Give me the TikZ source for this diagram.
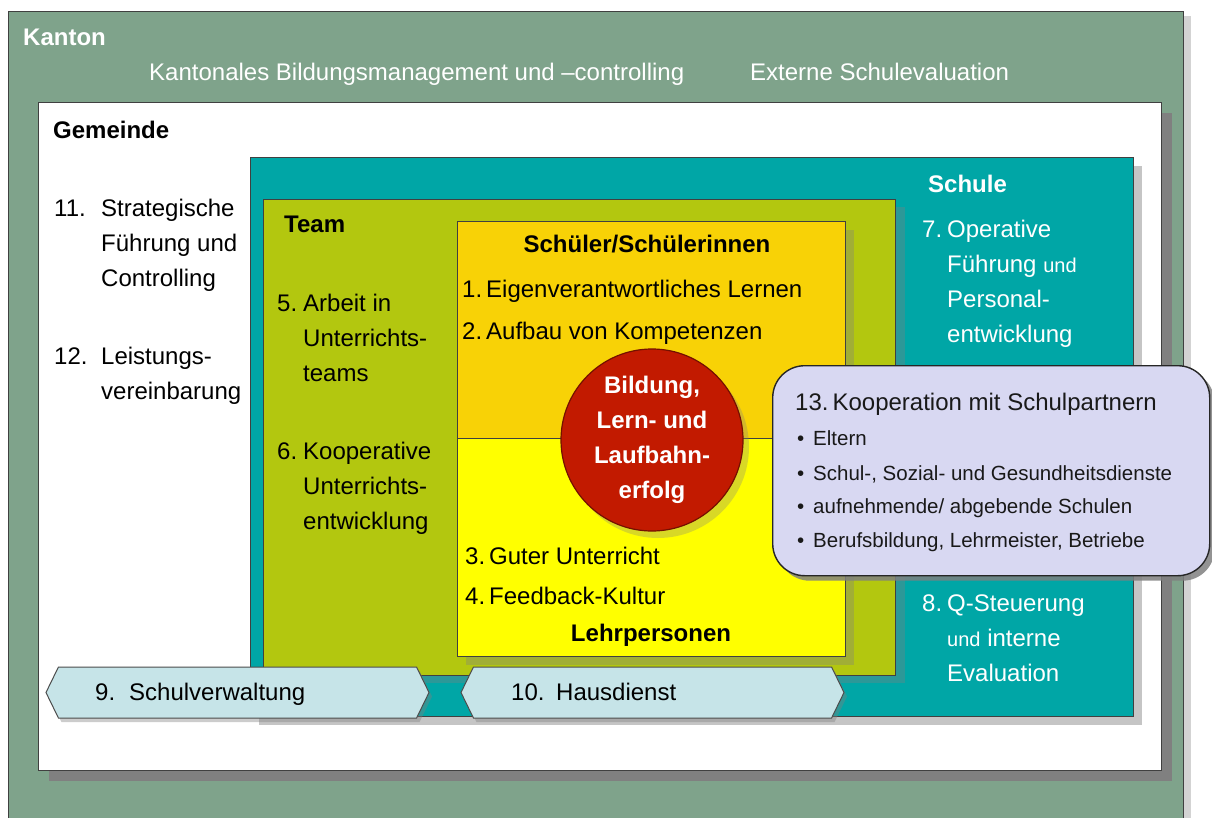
\documentclass[tikz,border=0pt]{standalone}
\usepackage{fontspec}
\setmainfont{Liberation Sans}
\usetikzlibrary{shapes.symbols,shadows}

\definecolor{kantongreen}{HTML}{7FA38B}
\definecolor{schulteal}{HTML}{00A6A6}
\definecolor{teamgreen}{HTML}{B3C70F}
\definecolor{lerngold}{HTML}{F8D206}
\definecolor{lehryellow}{HTML}{FFFF00}
\definecolor{erfolgred}{HTML}{C21A00}
\definecolor{partnerlilac}{HTML}{D8D8F2}
\definecolor{dienstcyan}{HTML}{C6E4E8}

\tikzstyle{area}=[draw=black!75,line width=1.1pt,inner sep=0pt,anchor=north west]
\tikzstyle{kanton area}=[area,fill=kantongreen,drop shadow={shadow xshift=7pt,shadow yshift=-4pt,opacity=0.35}]
\tikzstyle{gemeinde area}=[area,fill=white,drop shadow={shadow xshift=10pt,shadow yshift=-10pt,fill=black!50,opacity=1}]
\tikzstyle{schule area}=[area,fill=schulteal,drop shadow={shadow xshift=8pt,shadow yshift=-8pt,opacity=0.45}]
\tikzstyle{team area}=[area,fill=teamgreen,drop shadow={shadow xshift=9pt,shadow yshift=-7pt,opacity=0.35}]
\tikzstyle{lehr area}=[area,fill=lehryellow,drop shadow={shadow xshift=8pt,shadow yshift=-8pt,opacity=0.35}]
\tikzstyle{lern area}=[area,fill=lerngold]
\tikzstyle{erfolg}=[circle,draw=erfolgred!60!black,line width=1.2pt,fill=erfolgred,minimum size=182pt,inner sep=0pt,
    text=white,align=center,font=\bfseries\fontsize{24}{35}\selectfont,
    drop shadow={shadow xshift=6pt,shadow yshift=-7pt,opacity=0.3}]
\tikzstyle{dienst bar}=[signal,signal to=west and east,signal pointer angle=128,draw=black!70,line width=1pt,
    fill=dienstcyan,minimum width=383pt,minimum height=51pt,inner sep=0pt,
    drop shadow={shadow xshift=3pt,shadow yshift=-4pt,opacity=0.4}]
\tikzstyle{partner box}=[area,fill=partnerlilac,rounded corners=32pt,line width=1.4pt,draw=black!85,
    drop shadow={shadow xshift=5pt,shadow yshift=-5pt,opacity=0.85}]
\tikzstyle{txt}=[inner sep=0pt,align=left,font=\fontsize{24}{35}\selectfont]
\tikzstyle{head}=[inner sep=0pt,font=\bfseries\fontsize{24}{35}\selectfont]
\tikzstyle{bullet txt}=[inner sep=0pt,anchor=base west,text=black!90,font=\fontsize{20.5}{34}\selectfont]

\newcommand{\klein}[1]{{\fontsize{20}{35}\selectfont #1}}

\begin{document}
\begin{tikzpicture}[x=1pt,y=-1pt]
    \useasboundingbox (0,0) rectangle (1212,818);
    \clip (0,0) rectangle (1212,818);

    % nested areas
    \node[kanton area,minimum width=1175pt,minimum height=840pt] (kanton) at (8,11) {};
    \node[gemeinde area,minimum width=1123pt,minimum height=668pt] (gemeinde) at (38,102) {};
    \node[schule area,minimum width=883pt,minimum height=559pt] (schule) at (250,157) {};
    \node[team area,minimum width=632pt,minimum height=476pt] (team) at (263,199) {};
    \node[lehr area,minimum width=388pt,minimum height=435pt] (lehr) at (457,221) {};
    \node[lern area,minimum width=388pt,minimum height=217pt] (lern) at (457,221) {};

    % Kanton
    \node[head,anchor=base west,text=white] (kantonT) at (23,46) {Kanton};
    \node[txt,anchor=base west,text=white] (bildmgmt) at (149,81) {Kantonales Bildungsmanagement und –controlling};
    \node[txt,anchor=base west,text=white] (exteval) at (750,81) {Externe Schulevaluation};

    % Gemeinde
    \node[head,anchor=base west] (gemeindeT) at (53,139) {Gemeinde};
    \node[txt,anchor=north west] (strat) at (54,199)
        {\makebox[47pt][l]{11.}Strategische\\\hspace*{47pt}Führung und\\\hspace*{47pt}Controlling};
    \node[txt,anchor=north west] (leist) at (54,347)
        {\makebox[47pt][l]{12.}Leistungs-\\\hspace*{47pt}vereinbarung};

    % Schule
    \node[head,anchor=base west,text=white] (schuleT) at (928,193) {Schule};
    \node[txt,anchor=north west,text=white] (operativ) at (922,220)
        {\makebox[25pt][l]{7.}Operative\\\hspace*{25pt}Führung \klein{und}\\\hspace*{25pt}Personal-\\\hspace*{25pt}entwicklung};
    \node[txt,anchor=north west,text=white] (qsteuer) at (922,595)
        {\makebox[25pt][l]{8.}Q-Steuerung\\\hspace*{25pt}\klein{und} interne\\\hspace*{25pt}Evaluation};

    % Team
    \node[head,anchor=base west] (teamT) at (284,233) {Team};
    \node[txt,anchor=north west] (arbeit) at (277,294)
        {\makebox[26pt][l]{5.}Arbeit in\\\hspace*{26pt}Unterrichts-\\\hspace*{26pt}teams};
    \node[txt,anchor=north west] (koop) at (277,442)
        {\makebox[26pt][l]{6.}Kooperative\\\hspace*{26pt}Unterrichts-\\\hspace*{26pt}entwicklung};

    % Schueler und Lehrpersonen
    \node[head,anchor=base] (schuelerT) at (647,253) {Schüler/Schülerinnen};
    \node[txt,anchor=base west] (lernen) at (462,297) {1.\,Eigenverantwortliches Lernen};
    \node[txt,anchor=base west] (kompet) at (462,339) {2.\,Aufbau von Kompetenzen};
    \node[txt,anchor=base west] (unterr) at (465,564) {3.\,Guter Unterricht};
    \node[txt,anchor=base west] (feedb) at (465,604) {4.\,Feedback-Kultur};
    \node[head,anchor=base] (lehrT) at (651,641) {Lehrpersonen};

    \node[erfolg] (erfolgC) at (652,440) {Bildung,\\Lern- und\\Laufbahn-\\erfolg};

    % Dienste
    \node[dienst bar] (verwaltung) at (237.5,692.5) {};
    \node[dienst bar] (hausdienst) at (652.5,692.5) {};
    \node[txt,anchor=base west] (verwaltungT) at (95,700) {\makebox[34pt][l]{9.}Schulverwaltung};
    \node[txt,anchor=base west] (hausdienstT) at (511,700) {\makebox[45pt][l]{10.}Hausdienst};

    % Schulpartner
    \node[partner box,minimum width=437pt,minimum height=210pt] (partner) at (772,365) {};
    \node[txt,anchor=base west,text=black!90] (partnerT) at (795,410) {13.\,Kooperation mit Schulpartnern};
    \foreach \y/\item in {445/Eltern, 480/{Schul-, Sozial- und Gesundheitsdienste},
                          513/{aufnehmende/ abgebende Schulen}, 547/{Berufsbildung, Lehrmeister, Betriebe}}
    {
        \node[bullet txt] at (797,\y) {•};
        \node[bullet txt] at (813,\y) {\item};
    }

\end{tikzpicture}
\end{document}
